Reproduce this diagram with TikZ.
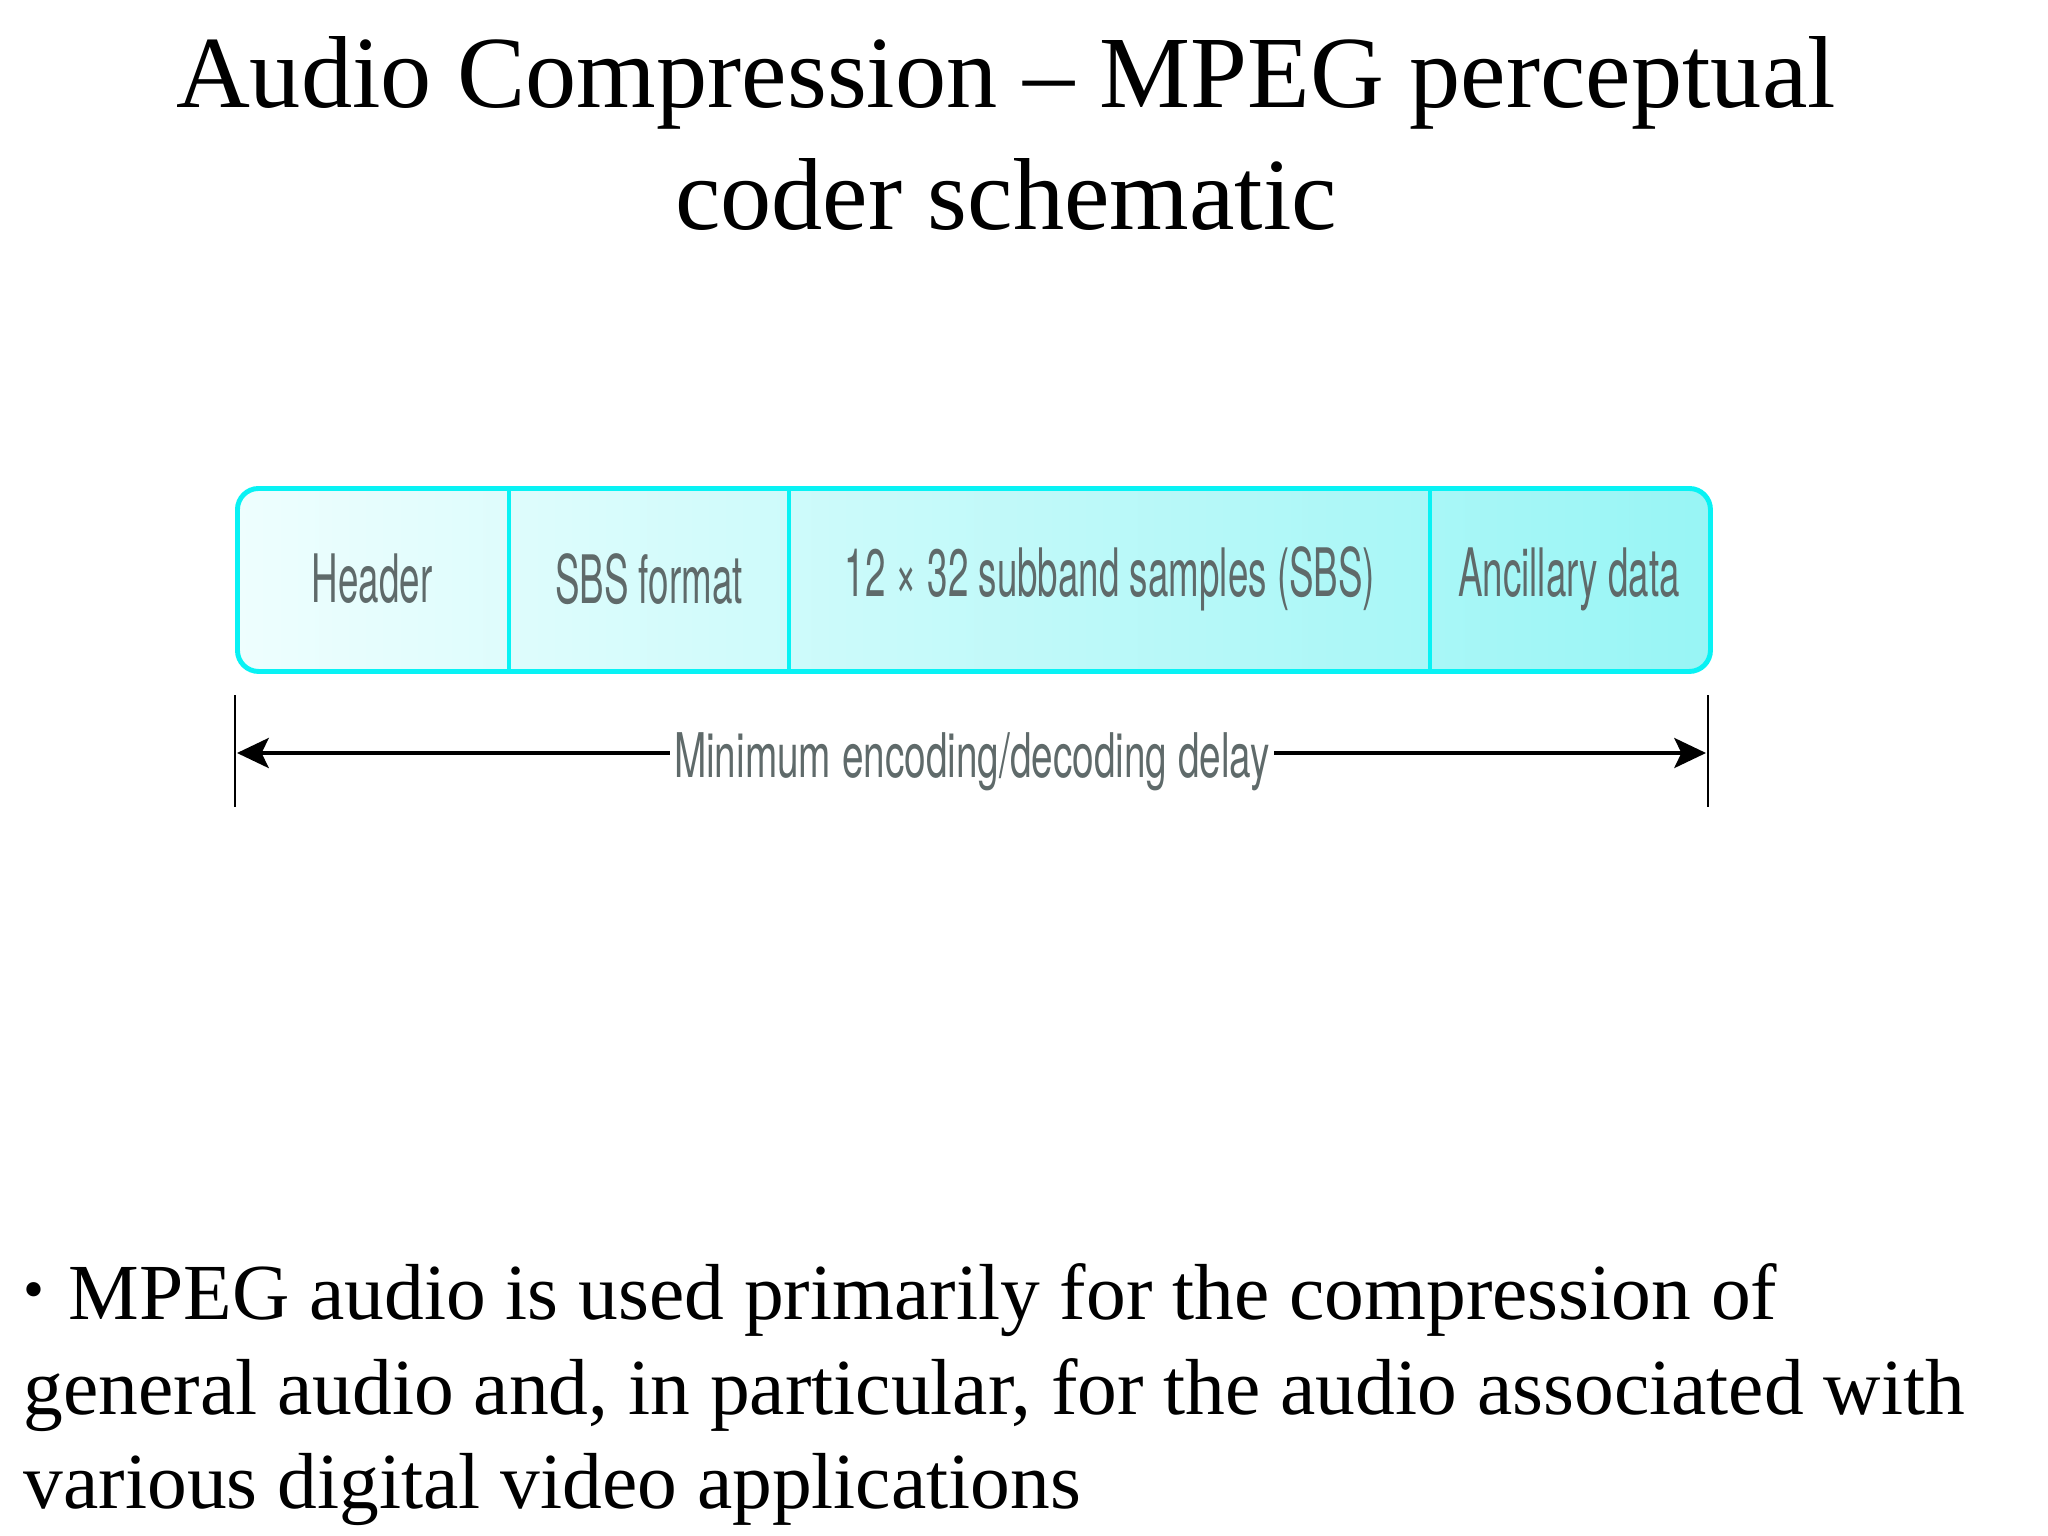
\documentclass[tikz,border=0pt]{standalone}
\usepackage{fontspec}
\setmainfont{Liberation Serif}
\newfontfamily\boxfont[FakeStretch=0.55]{TeX Gyre Heros}
\newfontfamily\dimfont[FakeStretch=0.63]{TeX Gyre Heros}
\usetikzlibrary{arrows.meta}
\definecolor{frame}{HTML}{08F2F4}
\definecolor{lightcy}{HTML}{EEFEFE}
\definecolor{darkcy}{HTML}{98F5F5}
\definecolor{celltext}{HTML}{5F6A6A}
\tikzset{
  titletext/.style={font=\fontsize{29.1pt}{34pt}\selectfont, anchor=base, inner sep=0pt},
  bodytext/.style={font=\fontsize{22.6pt}{27pt}\selectfont, anchor=base west, inner sep=0pt},
  celllabel/.style={font=\boxfont\fontsize{19pt}{21pt}\selectfont, text=celltext, inner sep=0pt},
  dimlabel/.style={font=\dimfont\fontsize{17.5pt}{19pt}\selectfont, text=celltext, inner sep=1pt},
  divider/.style={draw=frame, line width=1.1pt},
  dimarrow/.style={line width=1.2pt, -{Stealth[length=9pt,width=8.5pt,inset=2pt]}},
  ticks/.style={line width=0.6pt}
}
\begin{document}
\begin{tikzpicture}[x=0.01cm,y=-0.01cm]
\useasboundingbox (0,0) rectangle (2048,1536);
% title
\node[titletext] (t1) at (1006,107) {Audio Compression -- MPEG perceptual};
\node[titletext] (t2) at (1006,229) {coder schematic};
% frame
\node[draw=frame, line width=1.4pt, rounded corners=6pt, left color=lightcy, right color=darkcy,
      minimum width=1473*0.01cm, minimum height=183*0.01cm, inner sep=0pt, anchor=north west]
      (frame) at (235,486) {};
\coordinate (d1t) at (509,486); \coordinate (d1b) at (509,669);
\coordinate (d2t) at (789,486); \coordinate (d2b) at (789,669);
\coordinate (d3t) at (1430,486); \coordinate (d3b) at (1430,669);
\draw[divider] (d1t) -- (d1b);
\draw[divider] (d2t) -- (d2b);
\draw[divider] (d3t) -- (d3b);
\node[celllabel] (c1) at (372,579) {Header};
\node[celllabel] (c2) at (649,579) {SBS format};
\node[celllabel] (c3) at (1110,579) {12 × 32 subband samples (SBS)};
\node[celllabel] (c4) at (1569,579) {Ancillary data};
% dimension
\coordinate (lt) at (235,695); \coordinate (lb) at (235,807);
\coordinate (rt) at (1708,695); \coordinate (rb) at (1708,807);
\draw[ticks] (lt) -- (lb);
\draw[ticks] (rt) -- (rb);
\coordinate (L) at (237,753); \coordinate (R) at (1706,753);
\node[dimlabel] (dl) at (972,762) {Minimum encoding/decoding delay};
\draw[dimarrow] (dl.west |- L) -- (L);
\draw[dimarrow] (dl.east |- R) -- (R);
% bullet text
\node[bodytext] (b0) at (23,1319) {\raisebox{0.25ex}{\fontsize{17pt}{17pt}\selectfont\textbullet}};
\node[bodytext] (b1) at (68,1319) {MPEG audio is used primarily for the compression of};
\node[bodytext] (b2) at (23,1414) {general audio and, in particular, for the audio associated with};
\node[bodytext] (b3) at (23,1508) {various digital video applications};
\end{tikzpicture}
\end{document}
